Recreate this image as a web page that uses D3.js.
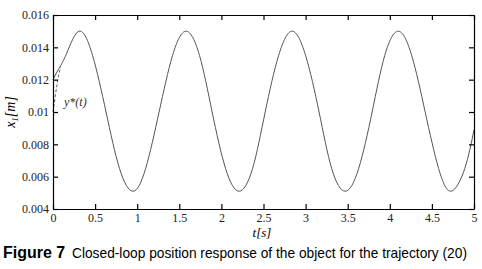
<!DOCTYPE html>
<html>
<head>
<meta charset="utf-8">
<script src="https://cdnjs.cloudflare.com/ajax/libs/d3/7.8.5/d3.min.js"></script>
<style>
  body { margin: 0; background: #fff; }
  svg { display: block; }
  .serif { font-family: "Liberation Serif", "DejaVu Serif", serif; }
</style>
</head>
<body>
<svg width="482" height="269"></svg>
<script>
// Response x1(t)
const respT = [0, 0.06, 0.16, 0.31, 0.47, 0.63, 0.79, 0.95, 1.10, 1.26, 1.42, 1.58, 1.74, 1.89,
  2.05, 2.21, 2.37, 2.52, 2.68, 2.84, 3.00, 3.16, 3.31, 3.47, 3.63, 3.79, 3.94, 4.10,
  4.26, 4.42, 4.58, 4.73, 4.89, 5.00];
const respX = [0.0120, 0.0126, 0.0136, 0.0150, 0.0135, 0.0100, 0.0065, 0.0051, 0.0065, 0.0100,
  0.0135, 0.0150, 0.0135, 0.0100, 0.0065, 0.0051, 0.0065, 0.0100, 0.0135, 0.0150,
  0.0135, 0.0100, 0.0065, 0.0051, 0.0065, 0.0100, 0.0135, 0.0150, 0.0135, 0.0100,
  0.0065, 0.0051, 0.0065, 0.0089];
// Reference y*(t), only visible near the start (later it lies under the response)
const refT = [0, 0.03, 0.06, 0.09];
const refX = [0.0100, 0.0111, 0.0121, 0.0128];

const xTicks = [0, 0.5, 1, 1.5, 2, 2.5, 3, 3.5, 4, 4.5, 5];
const yTicks = [0.004, 0.006, 0.008, 0.010, 0.012, 0.014, 0.016];

const svg = d3.select("svg");
const mLeft = 53, mRight = 474, mTop = 15, mBottom = 209;

const x = d3.scaleLinear().domain([0, 5]).range([mLeft, mRight]);
const y = d3.scaleLinear().domain([0.004, 0.016]).range([mBottom, mTop]);

// curves
const line = d3.line().x(d => x(d[0])).y(d => y(d[1])).curve(d3.curveNatural);
svg.append("path")
  .datum(respT.map((t, i) => [t, respX[i]]))
  .attr("d", line)
  .attr("fill", "none").attr("stroke", "#555").attr("stroke-width", 1);
svg.append("path")
  .datum(refT.map((t, i) => [t, refX[i]]))
  .attr("d", d3.line().x(d => x(d[0])).y(d => y(d[1])))
  .attr("fill", "none").attr("stroke", "#666").attr("stroke-width", 1)
  .attr("stroke-dasharray", "3,2");

// axes with inward ticks on all four sides
const fmtY = d => d === 0.01 ? "0.01" : d3.format(".3f")(d);
const axB = svg.append("g").attr("transform", `translate(0,${mBottom})`)
  .call(d3.axisBottom(x).tickValues(xTicks).tickSizeInner(-5).tickSizeOuter(0).tickPadding(4).tickFormat(d3.format("")));
const axT = svg.append("g").attr("transform", `translate(0,${mTop})`)
  .call(d3.axisTop(x).tickValues(xTicks).tickSizeInner(-5).tickSizeOuter(0).tickFormat(""));
const axL = svg.append("g").attr("transform", `translate(${mLeft},0)`)
  .call(d3.axisLeft(y).tickValues(yTicks).tickSizeInner(-5).tickSizeOuter(0).tickPadding(4).tickFormat(fmtY));
const axR = svg.append("g").attr("transform", `translate(${mRight},0)`)
  .call(d3.axisRight(y).tickValues(yTicks).tickSizeInner(-5).tickSizeOuter(0).tickFormat(""));

[axB, axT, axL, axR].forEach(a => {
  a.attr("font-family", null);
  a.select(".domain").attr("stroke", "#000").attr("stroke-width", 1.2);
  a.selectAll(".tick line").attr("stroke", "#000").attr("stroke-width", 1.2);
  a.selectAll("text").attr("class", "serif").style("font-size", "12px").attr("fill", "#222");
});

// axis titles
svg.append("text").attr("class", "serif")
  .attr("x", 262).attr("y", 237).attr("text-anchor", "middle")
  .style("font-style", "italic").style("font-size", "13px")
  .text("t[s]");
const yl = svg.append("text").attr("class", "serif")
  .attr("transform", "translate(15,112) rotate(-90)").attr("text-anchor", "middle")
  .style("font-style", "italic").style("font-size", "14px");
yl.append("tspan").text("x");
yl.append("tspan").style("font-size", "9px").attr("dy", 3).text("1");
yl.append("tspan").attr("dy", -3).text("[m]");

// curve label
svg.append("text").attr("class", "serif")
  .attr("x", 64).attr("y", 106)
  .style("font-style", "italic").style("font-size", "12px").attr("fill", "#333")
  .text("y*(t)");

// caption
svg.append("text")
  .attr("x", 3).attr("y", 258)
  .style("font-family", "'Liberation Sans', Arial, sans-serif").style("font-weight", "bold").style("font-size", "16px")
  .text("Figure 7");
svg.append("text")
  .attr("x", 72).attr("y", 258)
  .style("font-family", "'Liberation Sans Narrow', 'Liberation Sans', Arial, sans-serif").style("font-size", "15px")
  .attr("textLength", 395).attr("lengthAdjust", "spacingAndGlyphs")
  .text("Closed-loop position response of the object for the trajectory (20)");
</script>
</body>
</html>
